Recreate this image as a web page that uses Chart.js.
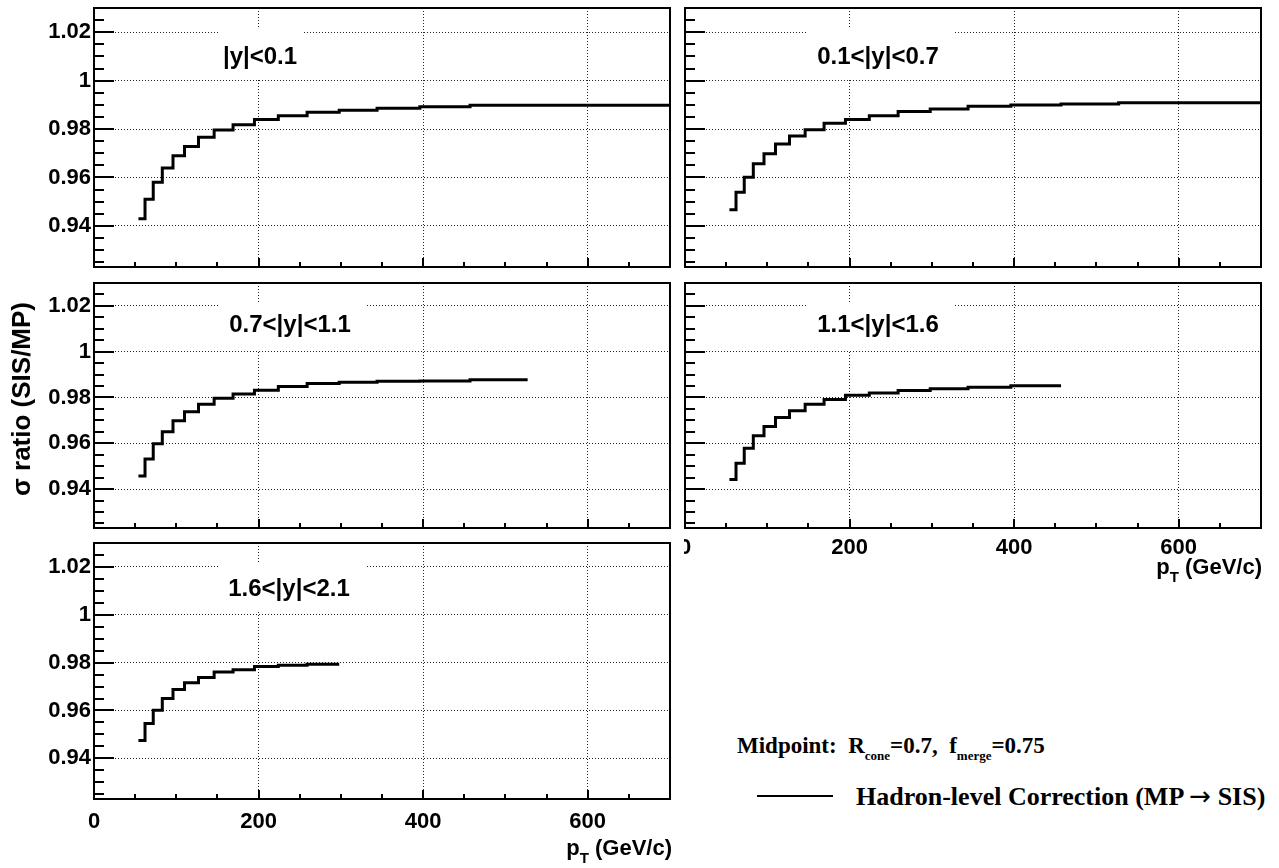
<!DOCTYPE html>
<html>
<head>
<meta charset="utf-8">
<script src="https://cdn.jsdelivr.net/npm/chart.js@4.4.0/dist/chart.umd.min.js"></script>
<style>
  body { margin: 0; background: #fff; }
  #page { position: relative; width: 1279px; height: 868px; overflow: hidden; background: #fff;
          font-family: "Liberation Sans", Arial, sans-serif; color: #000; }
  canvas { position: absolute; }
  .ttl { position: absolute; font-weight: bold; font-size: 22px; white-space: nowrap; line-height: 28px; }
  .ttl sub { font-size: 15px; vertical-align: -8px; }
  .leg { position: absolute; font-family: "Liberation Serif", "Times New Roman", serif;
         font-weight: bold; white-space: nowrap; line-height: 26px; }
  .leg sub { font-size: 13px; vertical-align: -7px; }
  .arr { font-family: "DejaVu Sans", sans-serif; font-weight: normal; }
</style>
</head>
<body>
<div id="page">
  <canvas id="p1"></canvas>
  <canvas id="p2"></canvas>
  <canvas id="p3"></canvas>
  <canvas id="p4"></canvas>
  <canvas id="p5"></canvas>

  <div class="ttl" style="left:21px; top:399px; font-size:26px; transform: translate(-50%, -50%) rotate(-90deg);">&sigma; ratio (SIS/MP)</div>
  <div class="ttl" style="right:17px; top:553px;">p<sub>T</sub> (GeV/c)</div>
  <div class="ttl" style="right:607px; top:834px;">p<sub>T</sub> (GeV/c)</div>

  <div class="leg" style="left:737px; top:733px; font-size:23px;">Midpoint:&nbsp; R<sub>cone</sub>=0.7,&nbsp; f<sub>merge</sub>=0.75</div>
  <div style="position:absolute; left:757px; top:795px; width:76px; height:2px; background:#000;"></div>
  <div class="leg" style="left:856px; top:783px; font-size:26px;">Hadron-level Correction (MP <span class="arr">&rarr;</span> SIS)</div>
</div>

<script>
// bin edges in pT (GeV/c), shared by all rapidity regions
var ptEdges = [54, 62, 72, 83, 96, 110, 127, 146, 169, 195, 224, 259, 298, 344, 396, 457, 527, 700];
var xTicks = [0, 200, 400, 600];
var yTicks = [0.94, 0.96, 0.98, 1, 1.02];
var rapidityBins = ['|y|<0.1', '0.1<|y|<0.7', '0.7<|y|<1.1', '1.1<|y|<1.6', '1.6<|y|<2.1'];

// sigma ratio SIS/MP, one value per pT bin
var ratioY01 = [0.9429, 0.9510, 0.9580, 0.9639, 0.9690, 0.9728, 0.9766, 0.9796, 0.9818, 0.9839, 0.9855, 0.9869, 0.9878, 0.9886, 0.9892, 0.9898, 0.9898];
var ratioY07 = [0.9466, 0.9539, 0.9601, 0.9657, 0.9698, 0.9738, 0.9771, 0.9797, 0.9824, 0.9839, 0.9855, 0.9872, 0.9883, 0.9894, 0.9899, 0.9903, 0.9909];
var ratioY11 = [0.9457, 0.9531, 0.9598, 0.9650, 0.9698, 0.9738, 0.9770, 0.9797, 0.9815, 0.9832, 0.9848, 0.9861, 0.9867, 0.9871, 0.9872, 0.9877];
var ratioY16 = [0.9442, 0.9513, 0.9578, 0.9633, 0.9673, 0.9713, 0.9742, 0.9771, 0.9791, 0.9810, 0.9820, 0.9830, 0.9838, 0.9845, 0.9851];
var ratioY21 = [0.9475, 0.9546, 0.9601, 0.9650, 0.9688, 0.9716, 0.9738, 0.9761, 0.9770, 0.9784, 0.9789, 0.9793];

var FONT = '"Liberation Sans", Arial, sans-serif';

// canvas: [left, top, width, height], area: [left, top, right, bottom] (page px)
var panels = [
  { id: 'p1', vals: ratioY01, label: rapidityBins[0], pos: [0, 0, 680, 275],   area: [94, 8, 670, 267],    xLab: false, xPad: 7,  yLab: true,  box: [218, 28, 303, 79],  txt: [260, 57] },
  { id: 'p2', vals: ratioY07, label: rapidityBins[1], pos: [684, 0, 595, 275], area: [685, 8, 1261, 267],  xLab: false, xPad: 7,  yLab: false, box: [807, 28, 955, 79],  txt: [878, 57] },
  { id: 'p3', vals: ratioY11, label: rapidityBins[2], pos: [0, 275, 680, 260], area: [94, 283, 670, 528],  xLab: false, xPad: 7,  yLab: true,  box: [218, 303, 367, 350], txt: [290, 325] },
  { id: 'p4', vals: ratioY16, label: rapidityBins[3], pos: [684, 275, 595, 290], area: [685, 283, 1261, 528], xLab: true, xPad: 7, yLab: false, box: [807, 303, 955, 350], txt: [878, 325] },
  { id: 'p5', vals: ratioY21, label: rapidityBins[4], pos: [0, 535, 680, 300], area: [94, 543, 670, 799],  xLab: true,  xPad: 10, yLab: true,  box: [218, 563, 367, 612], txt: [289, 589] }
];

function histPoints(vals) {
  var pts = vals.map(function(v, i) { return { x: ptEdges[i], y: v }; });
  pts.push({ x: ptEdges[vals.length], y: vals[vals.length - 1] });
  return pts;
}

// ROOT-like frame: white label pave, inner tick marks, closed box
var rootFrame = {
  id: 'rootFrame',
  beforeDatasetsDraw: function(chart, args, o) {
    var ctx = chart.ctx;
    ctx.save();
    ctx.fillStyle = '#fff';
    ctx.fillRect(o.box[0] - o.ox, o.box[1] - o.oy, o.box[2] - o.box[0], o.box[3] - o.box[1]);
    ctx.fillStyle = '#000';
    ctx.font = 'bold 24px ' + FONT;
    ctx.textAlign = 'center';
    ctx.textBaseline = 'middle';
    ctx.fillText(o.text, o.txt[0] - o.ox, o.txt[1] - o.oy);
    ctx.restore();
  },
  afterDatasetsDraw: function(chart) {
    var ctx = chart.ctx, a = chart.chartArea, x = chart.scales.x, y = chart.scales.y;
    ctx.save();
    ctx.strokeStyle = '#000';
    ctx.lineWidth = 2;
    ctx.beginPath();
    for (var k = Math.ceil(y.min / 0.005 - 1e-6); k * 0.005 <= y.max + 1e-9; k++) {
      var py = Math.round(y.getPixelForValue(k * 0.005));
      var len = (k % 4 === 0) ? 20 : 10;
      ctx.moveTo(a.left, py);
      ctx.lineTo(a.left + len, py);
    }
    for (var j = 1; j * 50 <= x.max; j++) {
      var px = Math.round(x.getPixelForValue(j * 50));
      var l2 = (j % 4 === 0) ? 9 : 5;
      ctx.moveTo(px, a.bottom);
      ctx.lineTo(px, a.bottom - l2);
    }
    ctx.stroke();
    ctx.strokeRect(a.left, a.top, a.right - a.left, a.bottom - a.top);
    ctx.restore();
  }
};

panels.forEach(function(p) {
  var cv = document.getElementById(p.id);
  cv.width = p.pos[2];
  cv.height = p.pos[3];
  cv.style.left = p.pos[0] + 'px';
  cv.style.top = p.pos[1] + 'px';
  var yw = p.area[0] - p.pos[0];
  var xh = p.pos[1] + p.pos[3] - p.area[3];

  new Chart(cv, {
    type: 'line',
    data: {
      datasets: [{
        data: histPoints(p.vals),
        stepped: 'before',
        borderColor: '#000',
        borderWidth: 3,
        pointRadius: 0,
        fill: false
      }]
    },
    options: {
      responsive: false,
      animation: false,
      events: [],
      layout: { padding: { left: 0, top: p.area[1] - p.pos[1], right: p.pos[0] + p.pos[2] - p.area[2], bottom: 0 } },
      plugins: {
        legend: { display: false },
        tooltip: { enabled: false },
        rootFrame: { box: p.box, txt: p.txt, text: p.label, ox: p.pos[0], oy: p.pos[1] }
      },
      scales: {
        x: {
          type: 'linear',
          min: 0,
          max: 700,
          afterBuildTicks: function(s) { s.ticks = xTicks.map(function(v) { return { value: v }; }); },
          afterFit: function(s) { s.height = xh; s.paddingLeft = 0; s.paddingRight = 0; },
          ticks: {
            display: p.xLab,
            autoSkip: false,
            maxRotation: 0,
            padding: p.xPad,
            color: '#000',
            font: { family: FONT, size: 22, weight: 'bold' }
          },
          grid: { color: '#222', lineWidth: 1, drawTicks: false },
          border: { display: false, dash: [1, 2] }
        },
        y: {
          type: 'linear',
          min: 0.923,
          max: 1.03,
          afterBuildTicks: function(s) { s.ticks = yTicks.map(function(v) { return { value: v }; }); },
          afterFit: function(s) { s.width = yw; s.paddingTop = 0; s.paddingBottom = 0; },
          ticks: {
            display: p.yLab,
            padding: 3,
            color: '#000',
            font: { family: FONT, size: 22, weight: 'bold' },
            callback: function(v) { return String(Math.round(v * 100) / 100); }
          },
          grid: { color: '#222', lineWidth: 1, drawTicks: false },
          border: { display: false, dash: [1, 2] }
        }
      }
    },
    plugins: [rootFrame]
  });
});
</script>
</body>
</html>
